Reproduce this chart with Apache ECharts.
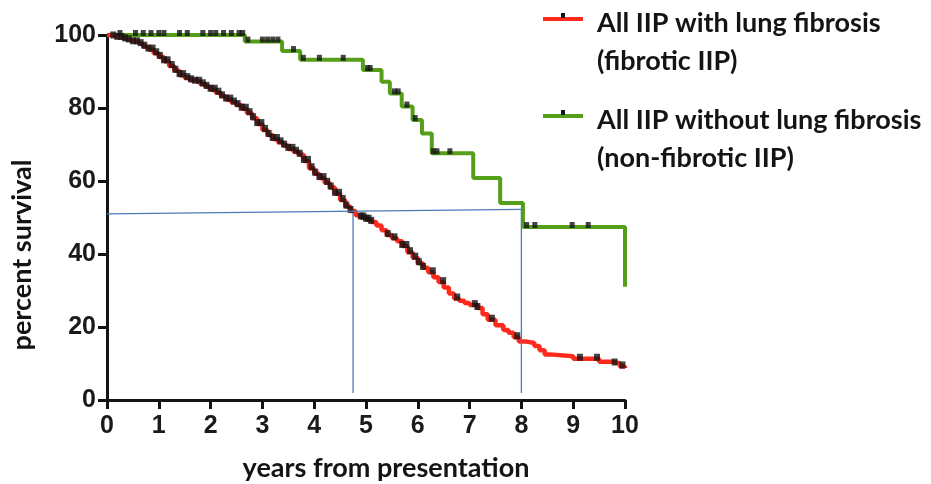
<!DOCTYPE html>
<html>
<head>
<meta charset="utf-8">
<script src="https://cdn.jsdelivr.net/npm/echarts@6/dist/echarts.min.js"></script>
<style>
  html, body { margin: 0; padding: 0; background: #fff; }
  #chart { width: 931px; height: 484px; }
</style>
</head>
<body>
<div id="chart"></div>
<script>
// Kaplan-Meier survival, idiopathic interstitial pneumonia (IIP) cohorts
// Event steps: [years, percent surviving after the drop]
const fibroticSteps = [
  [0, 100], [0.1, 99.6], [0.2, 99.2], [0.3, 98.8], [0.4, 98.5], [0.5, 98],
  [0.6, 97.5], [0.7, 96.8], [0.8, 96], [0.9, 95], [1.0, 94], [1.1, 92.8],
  [1.2, 91.5], [1.3, 90.2], [1.4, 89], [1.5, 88.2], [1.6, 87.6], [1.7, 87.2],
  [1.8, 86.5], [1.9, 85.8], [2.0, 85], [2.1, 84.2], [2.2, 83.2], [2.3, 82.3],
  [2.4, 81.5], [2.5, 80.8], [2.6, 79.8], [2.7, 78.6], [2.8, 77.2], [2.9, 75.6],
  [3.0, 74], [3.1, 72.6], [3.2, 71.5], [3.3, 70.6], [3.4, 69.7], [3.5, 68.8],
  [3.6, 68], [3.7, 67.2], [3.8, 65.5], [3.9, 63.5], [4.0, 62], [4.1, 60.8],
  [4.2, 59.5], [4.3, 58.2], [4.4, 56.5], [4.5, 54.8], [4.6, 53], [4.7, 51.8],
  [4.8, 50.6], [4.9, 50], [5.0, 49.4], [5.1, 48.8], [5.2, 47.8], [5.3, 46.5],
  [5.4, 45.2], [5.5, 44.3], [5.6, 43.5], [5.7, 42.2], [5.8, 40.5], [5.9, 39],
  [6.0, 37.5], [6.1, 36.2], [6.2, 35], [6.3, 33.6], [6.4, 32.3], [6.5, 30.8],
  [6.6, 29.2], [6.7, 27.8], [6.8, 27.2], [6.9, 26.6], [7.0, 26], [7.15, 25.2],
  [7.25, 23.5], [7.35, 22], [7.5, 20.5], [7.65, 19.2], [7.75, 18.4], [7.85, 17.2],
  [7.95, 16], [8.1, 15.6], [8.25, 14.8], [8.35, 13.6], [8.45, 12.5], [8.55, 12],
  [9.0, 11.3], [9.5, 10.5], [9.75, 10], [9.9, 9.2], [10, 8.8]
];
const fibroticCensored = [
  0.12, 0.2, 0.28, 0.35, 0.42, 0.5, 0.58, 0.65, 0.72, 0.8, 0.88, 0.95,
  1.02, 1.1, 1.17, 1.25, 1.32, 1.4, 1.47, 1.55, 1.62, 1.7, 1.78, 1.85,
  1.92, 2.0, 2.08, 2.15, 2.22, 2.3, 2.38, 2.45, 2.52, 2.6, 2.68, 2.75,
  2.82, 2.9, 2.98, 3.05, 3.12, 3.2, 3.28, 3.35, 3.42, 3.5, 3.58, 3.65,
  3.72, 3.8, 3.88, 3.95, 4.02, 4.1, 4.18, 4.25, 4.32, 4.4, 4.48, 4.55,
  4.62, 4.7, 4.9, 4.95, 5.0, 5.05, 5.1, 5.42, 5.55, 5.7, 5.78, 5.85,
  5.95, 6.02, 6.1, 6.29, 6.49, 6.76, 7.1, 7.15, 7.43, 7.92, 9.13, 9.46,
  9.8, 9.95
];

const nonFibroticSteps = [
  [0, 100], [2.66, 98.2], [3.38, 95.6], [3.73, 93.2], [4.94, 90.4],
  [5.3, 87.2], [5.46, 84], [5.69, 80.4], [5.9, 76.7], [6.08, 73],
  [6.27, 67.6], [7.07, 60.8], [7.59, 54], [8.03, 47.4], [10, 31]
];
const nonFibroticCensored = [
  0.25, 0.55, 0.7, 0.85, 1.0, 1.1, 1.4, 1.55, 1.85, 2.0, 2.1, 2.25,
  2.4, 2.55, 2.62, 2.72, 3.0, 3.1, 3.2, 3.3, 3.6, 3.79, 4.1, 4.56,
  5.03, 5.08, 5.55, 5.62, 5.79, 5.95, 6.3, 6.37, 6.62, 8.1, 8.26,
  8.98, 9.29
];

// Median-survival guide lines: [years, percent]
const guideHorizontal = [[0, 51], [8, 52.2]];
const guideFibroticMedian = [[4.75, 51.2], [4.75, 1.9]];
const guideNonFibroticMedian = [[8, 52.2], [8, 1.9]];

const xTicks = [0, 1, 2, 3, 4, 5, 6, 7, 8, 9, 10];
const yTicks = [0, 20, 40, 60, 80, 100];

const xTitle = 'years from presentation';
const yTitle = 'percent survival';

const RED = '#ff2a1c';
const GREEN = '#559e1a';
const GUIDE = '#4a7ab8';
const INK = '#141414';

// survival value of a step curve at time t
function survivalAt(steps, t) {
  let s = steps[0][1];
  for (const [time, val] of steps) {
    if (time <= t) s = val; else break;
  }
  return s;
}

const censorMarks = (steps, times) => times.map(t => [t, survivalAt(steps, t)]);

// fresh style objects for each axis
const tickLabel = (margin) => ({
  margin: margin,
  fontFamily: 'Liberation Sans, Arial, sans-serif',
  fontWeight: 'bold',
  fontSize: 25,
  color: '#1a1a1a'
});
const axisLine = () => ({ show: true, lineStyle: { color: INK, width: 3 } });
const axisTick = () => ({ show: true, length: 9, lineStyle: { color: INK, width: 3 } });

const TITLE_FONT = 'bold 27px Lato, sans-serif';

const chart = echarts.init(document.getElementById('chart'));

chart.setOption({
  animation: false,
  grid: { left: 107, right: 306, top: 35, bottom: 84, outerBoundsMode: 'none' },
  xAxis: {
    type: 'value',
    min: xTicks[0],
    max: xTicks[xTicks.length - 1],
    interval: 1,
    axisLine: axisLine(),
    axisTick: axisTick(),
    axisLabel: tickLabel(14),
    splitLine: { show: false }
  },
  yAxis: {
    type: 'value',
    min: yTicks[0],
    max: yTicks[yTicks.length - 1],
    interval: 20,
    axisLine: axisLine(),
    axisTick: axisTick(),
    axisLabel: tickLabel(11),
    splitLine: { show: false }
  },
  series: [
    {
      name: 'All IIP without lung fibrosis (non-fibrotic IIP)',
      type: 'line',
      step: 'end',
      data: nonFibroticSteps,
      showSymbol: false,
      lineStyle: { color: GREEN, width: 4 },
      z: 2
    },
    {
      name: 'All IIP with lung fibrosis (fibrotic IIP)',
      type: 'line',
      step: 'end',
      data: fibroticSteps,
      showSymbol: false,
      lineStyle: { color: RED, width: 4.5 },
      z: 3
    },
    {
      type: 'scatter',
      data: censorMarks(nonFibroticSteps, nonFibroticCensored),
      symbol: 'rect',
      symbolSize: [5, 6],
      symbolOffset: [0, -2],
      itemStyle: { color: INK },
      z: 4
    },
    {
      type: 'scatter',
      data: censorMarks(fibroticSteps, fibroticCensored),
      symbol: 'rect',
      symbolSize: [6, 7],
      symbolOffset: [0, -1.5],
      itemStyle: { color: INK },
      z: 5
    },
    {
      type: 'line', data: guideHorizontal, showSymbol: false,
      lineStyle: { color: GUIDE, width: 1.3 }, z: 6
    },
    {
      type: 'line', data: guideFibroticMedian, showSymbol: false,
      lineStyle: { color: GUIDE, width: 1.3 }, z: 6
    },
    {
      type: 'line', data: guideNonFibroticMedian, showSymbol: false,
      lineStyle: { color: GUIDE, width: 1.3 }, z: 6
    }
  ],
  graphic: [
    // axis titles
    {
      type: 'text', x: 386, y: 468,
      style: { text: xTitle, font: TITLE_FONT, fill: INK, align: 'center', verticalAlign: 'middle' }
    },
    {
      type: 'text', x: 22, y: 255, rotation: Math.PI / 2,
      style: { text: yTitle, font: TITLE_FONT, fill: INK, align: 'center', verticalAlign: 'middle' }
    },
    // key: fibrotic
    { type: 'rect', shape: { x: 543, y: 17, width: 40, height: 4 }, style: { fill: RED } },
    { type: 'rect', shape: { x: 561, y: 13, width: 4, height: 5 }, style: { fill: INK } },
    {
      type: 'text', left: 597, top: 4,
      style: {
        text: 'All IIP with lung fibrosis\n(fibrotic IIP)',
        font: TITLE_FONT, fill: INK, lineHeight: 38
      }
    },
    // key: non-fibrotic
    { type: 'rect', shape: { x: 543, y: 114, width: 40, height: 4 }, style: { fill: GREEN } },
    { type: 'rect', shape: { x: 561, y: 110, width: 4, height: 5 }, style: { fill: INK } },
    {
      type: 'text', left: 597, top: 101,
      style: {
        text: 'All IIP without lung fibrosis\n(non-fibrotic IIP)',
        font: TITLE_FONT, fill: INK, lineHeight: 38
      }
    }
  ]
});
</script>
</body>
</html>
